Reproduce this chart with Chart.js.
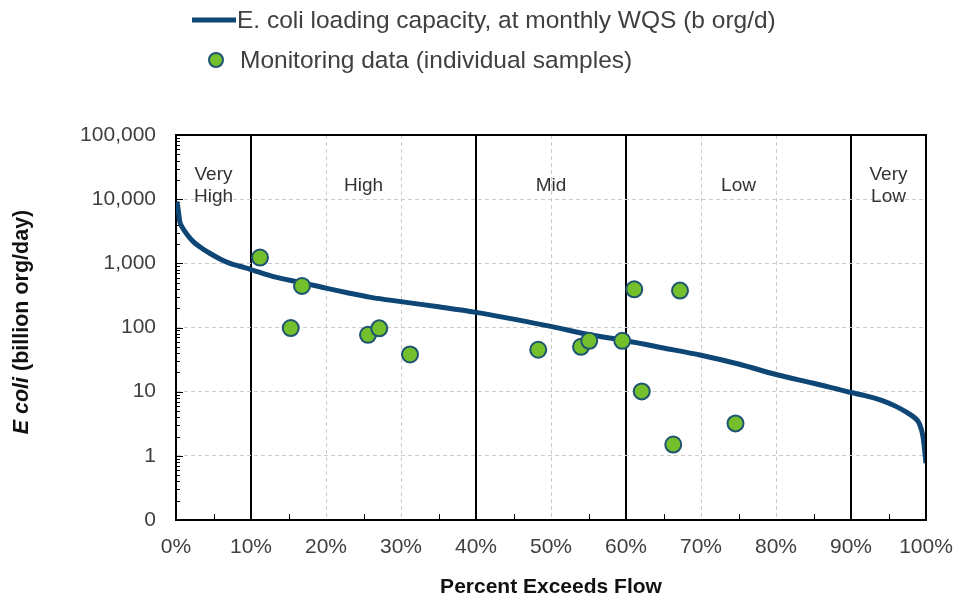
<!DOCTYPE html>
<html>
<head>
<meta charset="utf-8">
<script src="https://cdn.jsdelivr.net/npm/chart.js@4.4.0/dist/chart.umd.min.js"></script>
<style>
  html, body { margin: 0; padding: 0; background: #ffffff; }
  #wrap { width: 958px; height: 600px; }
</style>
</head>
<body>
<div id="wrap"><canvas id="chart1" width="958" height="600"></canvas></div>
<script>
// load duration curve (percent of time flow exceeded, billion org/day)
var flowPct  = [0, 0.2, 0.5, 0.8, 1.5, 2.3, 3.2, 4.5, 6, 7.2, 8.5, 10, 13, 16.8, 20, 23, 26, 30, 35, 40, 45, 50, 55, 60, 65, 70, 75, 80, 85, 90, 92, 94, 96, 97.5, 98.5, 99.1, 99.6, 100];
var capacity = [9000, 8100, 4500, 3700, 2800, 2180, 1800, 1435, 1150, 1000, 900, 800, 620, 500, 410, 345, 295, 253, 210, 172, 135, 104, 78, 62, 48, 37, 27, 18.5, 13.5, 9.7, 8.6, 7.4, 5.9, 4.7, 3.9, 3.2, 2.0, 0.77];

// monitoring samples
var samplePct = [11.2, 15.3, 16.8, 25.6, 27.1, 31.2, 48.3, 54.0, 55.1, 59.5, 61.1, 62.1, 66.3, 67.2, 74.6];
var sampleVal = [1230, 98, 445, 77, 97, 38, 45, 50, 62, 62, 394, 10.1, 1.5, 376, 3.2];

// flow zones
var zoneBounds = [10, 40, 60, 90];
var zoneNames  = [["Very", "High"], ["High"], ["Mid"], ["Low"], ["Very", "Low"]];
var zoneCenter = [5, 25, 50, 75, 95];

// y axis ticks (0.1 is shown as "0")
var yTickValues = [0.1, 1, 10, 100, 1000, 10000, 100000];
var yTickLabels = ["0", "1", "10", "100", "1,000", "10,000", "100,000"];

var FONT = "'Liberation Sans', Arial, sans-serif";
var TEXT = "#404040";

var lineData = flowPct.map(function (x, i) { return { x: x, y: capacity[i] }; });
var dotData  = samplePct.map(function (x, i) { return { x: x, y: sampleVal[i] }; });

// inward minor ticks, zone labels, legend, frame and y title
var extras = {
    id: "extras",
    beforeDatasetsDraw: function (chart) {
        var ctx = chart.ctx, x = chart.scales.x, y = chart.scales.y;
        var a = chart.chartArea;
        ctx.save();
        ctx.strokeStyle = "#000";
        ctx.lineWidth = 1;
        ctx.beginPath();
        for (var k = -1; k < 5; k++) {
            for (var m = 1; m < 10; m++) {
                var py = Math.round(y.getPixelForValue(m * Math.pow(10, k))) + 0.5;
                var len = m === 1 ? 7 : 4;
                ctx.moveTo(a.left, py);
                ctx.lineTo(a.left + len, py);
            }
        }
        for (var p = 5; p < 100; p += 10) {
            var px = Math.round(x.getPixelForValue(p)) + 0.5;
            ctx.moveTo(px, a.bottom);
            ctx.lineTo(px, a.bottom - 6);
        }
        ctx.stroke();

        ctx.fillStyle = "#333";
        ctx.font = "19px " + FONT;
        ctx.textAlign = "center";
        ctx.textBaseline = "middle";
        zoneNames.forEach(function (lines, i) {
            var cx = x.getPixelForValue(zoneCenter[i]);
            if (lines.length === 2) {
                ctx.fillText(lines[0], cx, 175);
                ctx.fillText(lines[1], cx, 197);
            } else {
                ctx.fillText(lines[0], cx, 186);
            }
        });
        ctx.restore();
    },
    afterDatasetsDraw: function (chart) {
        var a = chart.chartArea, c = chart.ctx;
        c.save();
        c.strokeStyle = "#000";
        c.lineWidth = 2;
        c.beginPath();
        c.moveTo(a.left, a.top);
        c.lineTo(a.right, a.top);
        c.lineTo(a.right, a.bottom);
        c.stroke();
        c.restore();
    },
    afterDraw: function (chart) {
        var ctx = chart.ctx;
        var ds = chart.data.datasets;
        ctx.save();
        // legend
        ctx.font = "24.5px " + FONT;
        ctx.fillStyle = TEXT;
        ctx.textBaseline = "middle";
        ctx.textAlign = "left";

        ctx.strokeStyle = ds[0].borderColor;
        ctx.lineWidth = 5;
        ctx.beginPath();
        ctx.moveTo(192, 20);
        ctx.lineTo(236, 20);
        ctx.stroke();
        ctx.fillText(ds[0].label, 237, 21);

        ctx.beginPath();
        ctx.arc(216, 60, 7, 0, Math.PI * 2);
        ctx.fillStyle = ds[1].backgroundColor;
        ctx.fill();
        ctx.strokeStyle = ds[1].borderColor;
        ctx.lineWidth = 2;
        ctx.stroke();
        ctx.fillStyle = TEXT;
        ctx.fillText(ds[1].label, 240, 61);

        // y axis title, "E coli" in italics
        var p1 = "E coli", p2 = " (billion org/day)";
        var f1 = "italic bold 21.5px " + FONT, f2 = "bold 21.5px " + FONT;
        ctx.font = f1; var w1 = ctx.measureText(p1).width;
        ctx.font = f2; var w2 = ctx.measureText(p2).width;
        ctx.translate(22, 322);
        ctx.rotate(-Math.PI / 2);
        ctx.fillStyle = "#111";
        var sx = -(w1 + w2) / 2;
        ctx.font = f1; ctx.fillText(p1, sx, 0);
        ctx.font = f2; ctx.fillText(p2, sx + w1, 0);
        ctx.restore();
    }
};

var isZone = function (ctx) { return zoneBounds.indexOf(ctx.tick.value) >= 0; };

var ctx = document.getElementById("chart1").getContext("2d");
var myChart = new Chart(ctx, {
    type: "scatter",
    data: {
        datasets: [{
            type: "line",
            label: "E. coli loading capacity, at monthly WQS (b org/d)",
            data: lineData,
            borderColor: "#0e4675",
            borderWidth: 5,
            pointRadius: 0,
            cubicInterpolationMode: "monotone",
            fill: false,
            order: 2
        }, {
            label: "Monitoring data (individual samples)",
            data: dotData,
            backgroundColor: "#74bf2c",
            borderColor: "#1d5470",
            borderWidth: 2,
            pointRadius: 8,
            order: 1
        }]
    },
    options: {
        responsive: false,
        animation: false,
        layout: { padding: { top: 135, right: 32, left: 0, bottom: 0 } },
        plugins: {
            legend: { display: false },
            tooltip: { enabled: false }
        },
        scales: {
            x: {
                type: "linear",
                min: 0,
                max: 100,
                afterFit: function (s) {
                    s.height = 80;
                    s.paddingLeft = 0;
                    s.paddingRight = 0;
                },
                ticks: {
                    stepSize: 10,
                    padding: 15,
                    color: TEXT,
                    font: { family: FONT, size: 21 },
                    callback: function (v) { return v + "%"; }
                },
                grid: {
                    drawTicks: false,
                    color: function (c) { return isZone(c) ? "#000" : "#cccccc"; },
                    lineWidth: function (c) { return isZone(c) ? 2 : 1; }
                },
                border: {
                    color: "#000",
                    width: 2,
                    dash: function (c) { return isZone(c) ? [] : [4, 3]; }
                },
                title: {
                    display: true,
                    text: "Percent Exceeds Flow",
                    color: "#111",
                    font: { family: FONT, size: 21, weight: "bold" },
                    padding: { top: 0, bottom: 0 }
                }
            },
            y: {
                type: "logarithmic",
                min: 0.1,
                max: 100000,
                afterFit: function (s) {
                    s.width = 176;
                    s.paddingTop = 0;
                    s.paddingBottom = 0;
                },
                afterBuildTicks: function (s) {
                    s.ticks = yTickValues.map(function (v) { return { value: v }; });
                },
                ticks: {
                    padding: 20,
                    color: TEXT,
                    font: { family: FONT, size: 21 },
                    callback: function (v, i) { return yTickLabels[i]; }
                },
                grid: {
                    drawTicks: false,
                    color: "#cccccc",
                    lineWidth: 1
                },
                border: { color: "#000", width: 2, dash: [4, 3] }
            }
        }
    },
    plugins: [extras]
});
</script>
</body>
</html>
